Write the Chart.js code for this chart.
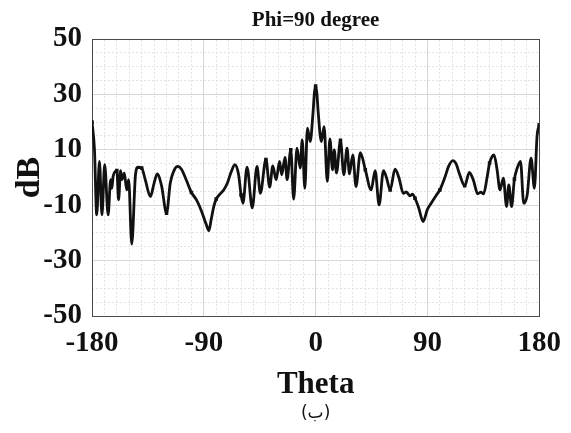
<!DOCTYPE html>
<html>
<head>
<meta charset="utf-8">
<script src="https://cdn.jsdelivr.net/npm/chart.js@4.4.1/dist/chart.umd.min.js"></script>
<style>
  html, body { margin: 0; padding: 0; background: #fff; }
  #wrap { width: 571px; height: 433px; position: relative; }
</style>
</head>
<body>
<div id="wrap"><canvas id="chart" width="571" height="433"></canvas></div>
<script>
// --- data ---
const chartTitle = 'Phi=90 degree';
const caption = '(ب)';
const xLabel = 'Theta';
const yLabel = 'dB';

const theta = [-180, -178, -176.2, -174, -172, -169.8, -167, -165, -164, -163, -160, -158.6, -157, -156, -154, -152, -150.5, -148, -145, -143,
  -140, -137, -133, -130, -127.5, -124, -120, -117, -114, -111, -108, -104, -100, -96, -92, -88, -86, -84, -82, -80,
  -77, -74, -71, -68, -65, -62, -60, -58.5, -55.2, -51, -47.2, -44.5, -40, -37, -34.5, -31.8, -29, -27.3, -24.6, -23,
  -20, -17.7, -15, -12.4, -10.8, -8.7, -6.6, -4.4, -2, -1, 0, 1, 2, 4.6, 6.8, 9.4, 11.5, 13.6, 15, 16.8, 20, 22.7,
  25.3, 27.2, 29.9, 32.5, 36, 40, 44.7, 47.9, 51.1, 54.6, 57, 60, 63.9, 67, 70.6, 73, 75.8, 78, 80, 83,
  86.5, 90, 93, 97, 100, 104, 107, 110.4, 113, 116, 120, 123.7, 127, 130.4, 133, 135.2, 138, 140, 142.3, 143.6,
  146, 148.4, 151.1, 153.7, 155.5, 157.7, 160, 162, 164.9, 167.5, 170.3, 173.4, 176.1, 178.2, 180];

const gainDb = [20, 10, -13.5, 5.8, -13.5, 4.6, -13.5, -0.8, -3.9, 0.4, 2.5, -8, 2.5, -0.8, 1.6, -4.5, -0.8, -24, 1, 3.7,
  3.4, -1, -6.9, -2, 1.3, -3, -12.9, -2, 2.5, 4, 3, -1, -5.4, -8, -12, -17, -19.2, -15, -10.5, -7.8,
  -6, -4.5, -2, 2, 4.6, 1, -6.3, -9.3, 3.7, -11, 4, -5.7, 6.5, -3.5, 4.2, -0.8, 5.8, 1, 7.3, -0.8,
  10, -7.8, 10.6, 3.4, 13.6, -3.9, 17.8, 13, 24, 30.5, 33, 30.5, 24, 13, 18.4, -1.4, 13.9, 2.8, 10, 1.6, 13.4, 1,
  10.6, 1.3, 8.2, -3.3, 9, 2.8, -4.5, 2.5, -9.9, 2.5, 0, -4.5, 3, 0, -5.7, -5.2, -6.6, -6, -7.5, -11,
  -15.9, -11.5, -9.3, -6.5, -4.5, 0, 4, 6.1, 5, 1, -3, 1.8, -1, -5.9, -5.3, -5.9, 0, 5.2, 7.8, 8.2,
  3, -4.5, -0.2, -10.5, -2.7, -10.5, -0.6, 3, 5.8, -9.3, -6.3, 7, -3.9, 14.8, 19];

const xTicks = [-180, -90, 0, 90, 180];
const yTicks = [-50, -30, -10, 10, 30, 50];

const serif = "'Liberation Serif', 'Times New Roman', serif";
const frameColor = '#4a4a4a';

// title on top and caption under the axis, centred on the plot area
const textPlugin = {
  id: 'textPlugin',
  afterDraw(chart) {
    const { ctx, chartArea } = chart;
    const cx = (chartArea.left + chartArea.right) / 2;
    ctx.save();
    ctx.fillStyle = '#111';
    ctx.textAlign = 'center';
    ctx.textBaseline = 'alphabetic';
    ctx.font = "bold 21px " + serif;
    ctx.fillText(chartTitle, cx, 26);
    ctx.font = "17px 'DejaVu Sans', sans-serif";
    ctx.fillText(caption, cx, 418);
    ctx.restore();
  }
};

new Chart(document.getElementById('chart'), {
  type: 'line',
  data: {
    datasets: [{
      data: theta.map((t, i) => ({ x: t, y: gainDb[i] })),
      borderColor: '#111',
      backgroundColor: '#111',
      borderWidth: 2.8,
      cubicInterpolationMode: 'monotone',
      pointStyle: 'rect',
      pointRadius: ctx => (ctx.raw && ctx.raw.x % 20 === 0 ? 2.5 : 0),
      pointBorderWidth: 0,
      fill: false
    }]
  },
  options: {
    responsive: false,
    animation: false,
    events: [],
    layout: { padding: { top: 39, right: 27, bottom: 25, left: 0 } },
    plugins: { legend: { display: false }, tooltip: { enabled: false }, title: { display: false } },
    scales: {
      x: {
        type: 'linear', position: 'bottom', min: -180, max: 180,
        afterBuildTicks: s => { s.ticks = xTicks.map(v => ({ value: v })); },
        afterFit: s => { s.height = 92; },
        ticks: { padding: 10, color: '#111', font: { family: serif, size: 29, weight: 'bold' }, maxRotation: 0 },
        grid: { color: '#d6d6d6', lineWidth: 1, drawTicks: false, z: -1 },
        border: { display: true, color: frameColor, width: 1 },
        title: { display: true, text: xLabel, color: '#111', padding: { top: 0, bottom: 4 }, font: { family: serif, size: 31, weight: 'bold' } }
      },
      y: {
        type: 'linear', position: 'left', min: -50, max: 50,
        afterBuildTicks: s => { s.ticks = yTicks.map(v => ({ value: v })); },
        afterFit: s => { s.width = 92; },
        ticks: { padding: 10, color: '#111', font: { family: serif, size: 29, weight: 'bold' } },
        grid: { color: '#d6d6d6', lineWidth: 1, drawTicks: false, z: -1 },
        border: { display: true, color: frameColor, width: 1 },
        title: { display: true, text: yLabel, color: '#111', padding: { top: 10, bottom: 0 }, font: { family: serif, size: 34, weight: 'bold' } }
      },
      // minor grid, also draws the top and right frame lines
      xMinor: {
        type: 'linear', position: 'top', min: -180, max: 180,
        ticks: { display: false, stepSize: 10 },
        afterFit: s => { s.height = 0; },
        grid: { color: '#e3e3e3', lineWidth: 1, drawTicks: false, z: -2 },
        border: { display: true, color: frameColor, width: 1, dash: [2, 2] }
      },
      yMinor: {
        type: 'linear', position: 'right', min: -50, max: 50,
        ticks: { display: false, stepSize: 5 },
        afterFit: s => { s.width = 0; },
        grid: { color: '#e3e3e3', lineWidth: 1, drawTicks: false, z: -2 },
        border: { display: true, color: frameColor, width: 1, dash: [2, 2] }
      }
    }
  },
  plugins: [textPlugin]
});
</script>
</body>
</html>
